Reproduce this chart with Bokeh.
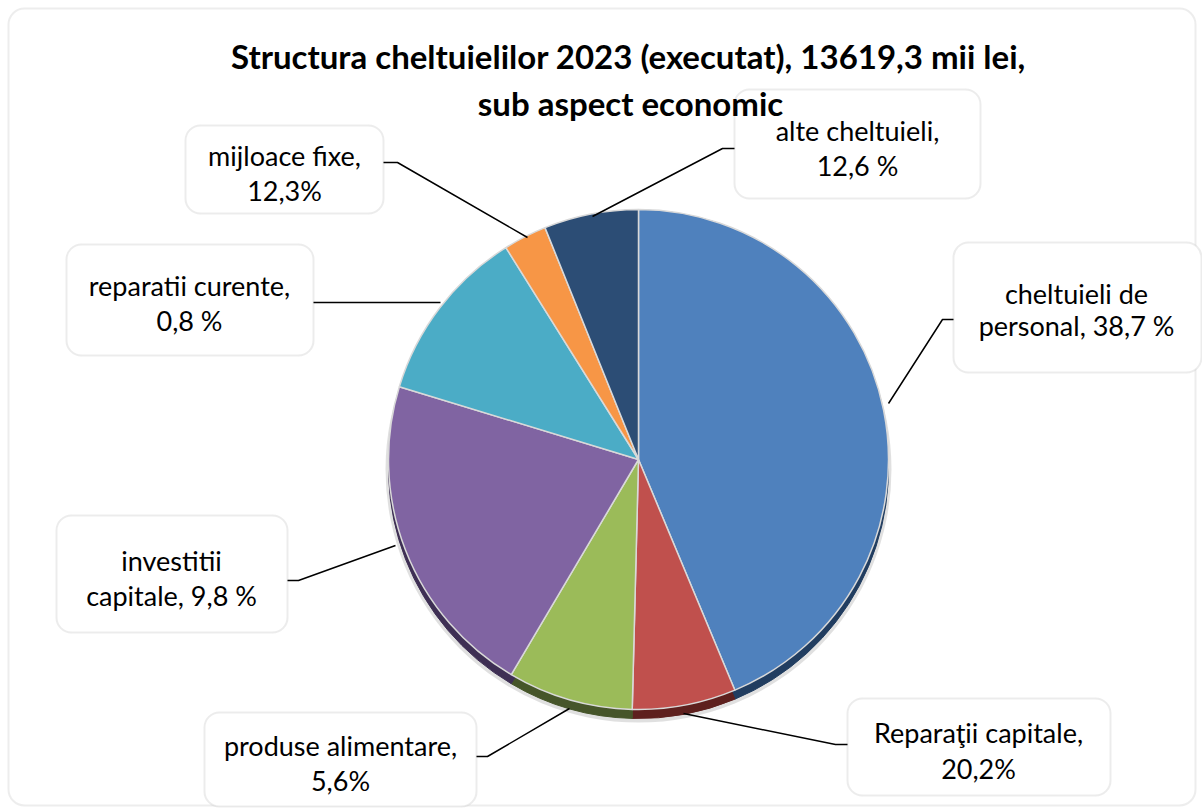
import numpy as np
from bokeh.plotting import figure
from bokeh.models import ColumnDataSource, Range1d, BoxAnnotation
from bokeh.core.properties import value
from bokeh.embed import file_html
from bokeh.resources import INLINE

# ---- data (slice shares as drawn, clockwise from 12 o'clock) ----
categories = ["cheltuieli de personal", "Reparaţii capitale", "produse alimentare",
              "investitii capitale", "reparatii curente", "mijloace fixe", "alte cheltuieli"]
shares = [43.7, 6.7, 8.1, 21.2, 11.4, 2.8, 6.1]
label_line1 = ["cheltuieli de", "Reparaţii capitale,", "produse alimentare,",
               "investitii", "reparatii curente,", "mijloace fixe,", "alte cheltuieli,"]
label_line2 = ["personal, 38,7 %", "20,2%", "5,6%",
               "capitale, 9,8 %", "0,8 %", "12,3%", "12,6 %"]
colors = ["#4F81BD", "#C0504D", "#9BBB59", "#8064A2", "#4BACC6", "#F79646", "#2C4D75"]
rim_colors = ["#213D60", "#5E201E", "#46552A", "#3E2F54", "#25596A", "#7A4A22", "#1A2E47"]
title1 = "Structura cheltuielilor 2023 (executat),  13619,3 mii lei,"
title2 = "sub aspect economic"

FONT = "Lato"

W, H = 1202, 812
p = figure(width=W, height=H, output_backend="svg", toolbar_location=None,
           x_range=Range1d(0, W), y_range=Range1d(-H, 0),
           min_border=0)
p.axis.visible = False
p.grid.visible = False
p.outline_line_color = None
p.background_fill_color = "white"
p.border_fill_color = "white"

# outer frame
p.add_layout(BoxAnnotation(left=8, right=1195, top=-8, bottom=-805,
                           fill_color="white", fill_alpha=1.0,
                           line_color="#C4C4C4", line_width=2,
                           border_radius=16, level="underlay"))

# pie geometry
s = np.array(shares, dtype=float)
frac = s / s.sum()
cum = np.concatenate([[0], np.cumsum(frac)])
start = np.pi / 2 - 2 * np.pi * cum[:-1]
end = np.pi / 2 - 2 * np.pi * cum[1:]
src = ColumnDataSource(dict(start=start, end=end, color=colors, rim=rim_colors, cat=categories))

cx, cy, r = 638, -459, 250

# soft shadow & 3D rim
p.circle(x=cx, y=cy - 10, radius=r + 3, fill_color="#000000", fill_alpha=0.12, line_color=None)
p.wedge(x=cx, y=cy - 9, radius=r, start_angle="start", end_angle="end", direction="clock",
        fill_color="rim", line_color="rim", source=src)
p.wedge(x=cx, y=cy, radius=r, start_angle="start", end_angle="end", direction="clock",
        fill_color="color", line_color="#D9D9D9", line_width=1.5, source=src)

# leader lines
leaders_x = [[888, 942, 953], [683, 835, 847], [569, 487, 476], [395, 298, 287],
             [440, 313], [527, 397, 383], [592, 722, 734]]
leaders_y = [[403, 319, 319], [713, 744, 744], [708, 756, 756], [545, 580, 580],
             [302, 302], [237, 162, 162], [216, 148, 148]]
p.multi_line(xs=leaders_x, ys=[[-v for v in ys] for ys in leaders_y],
             line_color="black", line_width=1.5)

# callout boxes (left, top, right, bottom in screen px)
boxes = [(953, 242, 1201, 372), (847, 698, 1110, 795), (204, 712, 476, 806),
         (56, 515, 287, 632), (66, 244, 313, 355), (185, 125, 383, 213), (734, 89, 980, 198)]
for (l, t, rr, b) in boxes:
    p.add_layout(BoxAnnotation(left=l, right=rr, top=-t, bottom=-b,
                               fill_color="white", fill_alpha=1.0,
                               line_color="#BFBFBF", line_width=2,
                               border_radius=15, level="underlay"))

tx = [1076, 978, 340, 171, 189, 284, 857]
ty1 = [293, 732, 745, 560, 285, 155, 130]
ty2 = [325, 768, 780, 595, 320, 190, 165]
lab = ColumnDataSource(dict(x=tx, y1=[-v for v in ty1], y2=[-v for v in ty2],
                            t1=label_line1, t2=label_line2))
for ycol, tcol in (("y1", "t1"), ("y2", "t2")):
    p.text(x="x", y=ycol, text=tcol, source=lab, text_font=value(FONT),
           text_font_size="27px", text_color="black",
           text_align="center", text_baseline="middle")

# title
p.text(x=[632], y=[-55], text=[title1], text_font=value(FONT), text_font_size="33px",
       text_font_style="bold", text_color="black", text_align="center", text_baseline="middle")
p.text(x=[630], y=[-102], text=[title2], text_font=value(FONT), text_font_size="33px",
       text_font_style="bold", text_color="black", text_align="center", text_baseline="middle")

open("out.html", "w").write(file_html(p, INLINE))
